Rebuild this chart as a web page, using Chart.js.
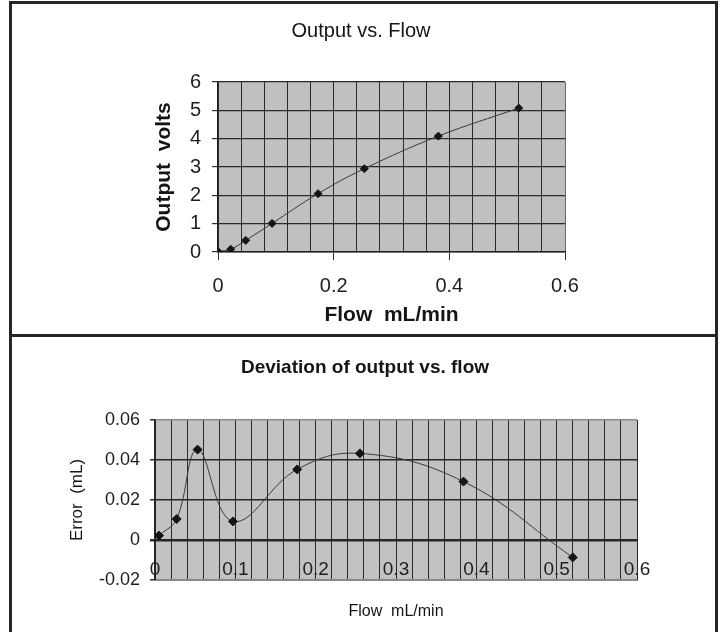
<!DOCTYPE html>
<html>
<head>
<meta charset="utf-8">
<script src="https://cdn.jsdelivr.net/npm/chart.js@4.4.1/dist/chart.umd.min.js"></script>
<style>
  html, body { margin: 0; padding: 0; background: #ffffff; overflow: hidden; }
  #wrap { position: relative; width: 722px; height: 632px; background: #ffffff; }
  canvas { position: absolute; left: 0; }
  .bar { position: absolute; background: #262626; z-index: 5; }
</style>
</head>
<body>
<div id="wrap">
  <canvas id="top" width="722" height="334" style="top:0px"></canvas>
  <canvas id="bottom" width="722" height="295" style="top:337px"></canvas>
  <div class="bar" style="left:9px;top:1px;width:3px;height:631px"></div>
  <div class="bar" style="left:715px;top:1px;width:3px;height:631px"></div>
  <div class="bar" style="left:9px;top:1px;width:709px;height:3px"></div>
  <div class="bar" style="left:9px;top:334px;width:709px;height:3px"></div>
</div>
<script>
// ---- Data: Output vs. Flow ----
const flowTop = [0, 0.022, 0.048, 0.0935, 0.173, 0.253, 0.381, 0.520];
const outputVolts = [0.02, 0.10, 0.41, 1.01, 2.06, 2.94, 4.09, 5.08];
const topXTickLabels = [0, 0.2, 0.4, 0.6];
const topYTickLabels = [0, 1, 2, 3, 4, 5, 6];

// ---- Data: Deviation of output vs. flow ----
const flowBottom = [0.005, 0.027, 0.053, 0.097, 0.177, 0.255, 0.384, 0.520];
const errorML = [0.0022, 0.0105, 0.0452, 0.0093, 0.0353, 0.0433, 0.0292, -0.0087];
const bottomXTickLabels = [0, 0.1, 0.2, 0.3, 0.4, 0.5, 0.6];
const bottomYTickLabels = [-0.02, 0, 0.02, 0.04, 0.06];

const FONT = "'Liberation Sans', Arial, Helvetica, sans-serif";

function isLabelled(v, list) {
  return list.some(t => Math.abs(t - v) < 1e-7);
}
function fmt(v, list) {
  const t = list.find(t => Math.abs(t - v) < 1e-7);
  return t === undefined ? '' : String(t);
}

const plotBg = {
  id: 'plotBg',
  beforeDraw(chart, args, opts) {
    const a = chart.chartArea;
    const c = chart.ctx;
    c.save();
    c.fillStyle = opts.color || '#c0c0c0';
    c.fillRect(a.left, a.top, a.right - a.left, a.bottom - a.top);
    c.restore();
  }
};

// ---- Top chart ----
new Chart(document.getElementById('top'), {
  type: 'scatter',
  data: {
    datasets: [{
      data: flowTop.map((x, i) => ({ x: x, y: outputVolts[i] })),
      showLine: true,
      tension: 0.4,
      borderColor: '#3a3a3a',
      borderWidth: 1,
      pointStyle: 'rectRot',
      pointRadius: 4,
      pointBackgroundColor: '#151515',
      pointBorderColor: '#151515',
      pointBorderWidth: 1
    }]
  },
  options: {
    responsive: false,
    animation: false,
    events: [],
    layout: { padding: { left: 157, right: 157, top: 0, bottom: 0 } },
    plugins: {
      legend: { display: false },
      tooltip: { enabled: false },
      plotBg: { color: '#c0c0c0' },
      title: {
        display: true,
        text: 'Output vs. Flow',
        color: '#151515',
        font: { family: FONT, size: 20, weight: 'normal' },
        padding: { top: 19, bottom: 39 }
      }
    },
    scales: {
      x: {
        type: 'linear',
        position: 'bottom',
        min: 0, max: 0.6,
        afterFit: s => { s.height = 82; },
        ticks: {
          stepSize: 0.04, precision: 2, autoSkip: false, maxRotation: 0,
          padding: 14, color: '#1e1e1e',
          font: { family: FONT, size: 20 },
          callback: v => fmt(v, topXTickLabels)
        },
        grid: {
          color: ctx => (Math.abs(ctx.tick.value - 0.6) < 1e-7 ? '#6a6a6a' : '#2a2a2a'),
          lineWidth: 1,
          drawTicks: true,
          tickLength: 8,
          tickColor: ctx => (isLabelled(ctx.tick.value, topXTickLabels) ? '#2e2e2e' : 'rgba(0,0,0,0)')
        },
        border: { display: true, color: '#222', width: 1.5 },
        title: {
          display: true, text: 'Flow  mL/min', color: '#151515',
          font: { family: FONT, size: 21, weight: 'bold' },
          padding: { top: 0, bottom: 6 }
        }
      },
      y: {
        type: 'linear',
        min: 0, max: 6,
        afterFit: s => { s.width = 61; },
        ticks: {
          stepSize: 1, padding: 11, color: '#1e1e1e',
          font: { family: FONT, size: 20 },
          callback: v => fmt(v, topYTickLabels)
        },
        grid: { color: '#2a2a2a', lineWidth: 1.2, tickLength: 6, tickColor: '#2e2e2e' },
        border: { display: true, color: '#222', width: 1.5 },
        title: {
          display: true, text: 'Output  volts', color: '#151515',
          font: { family: FONT, size: 21, weight: 'bold' },
          padding: { top: -5, bottom: 0 }
        }
      }
    }
  },
  plugins: [plotBg]
});

// ---- Bottom chart ----
new Chart(document.getElementById('bottom'), {
  type: 'scatter',
  data: {
    datasets: [{
      data: flowBottom.map((x, i) => ({ x: x, y: errorML[i] })),
      showLine: true,
      tension: 0.4,
      borderColor: '#3a3a3a',
      borderWidth: 1,
      pointStyle: 'rectRot',
      pointRadius: 4.5,
      pointBackgroundColor: '#151515',
      pointBorderColor: '#151515',
      pointBorderWidth: 1
    }]
  },
  options: {
    responsive: false,
    animation: false,
    events: [],
    layout: { padding: { left: 93, right: 85, top: 0, bottom: 0 } },
    plugins: {
      legend: { display: false },
      tooltip: { enabled: false },
      plotBg: { color: '#c2c2c2' },
      title: {
        display: true,
        text: 'Deviation of output vs. flow',
        color: '#151515',
        font: { family: FONT, size: 19, weight: 'bold' },
        padding: { top: 19.6, bottom: 40.6 }
      }
    },
    scales: {
      x: {
        type: 'linear',
        position: 'bottom',
        min: 0, max: 0.6,
        afterFit: s => { s.height = 52; },
        ticks: {
          stepSize: 0.02, precision: 2, autoSkip: false, maxRotation: 0,
          mirror: true, padding: -1, color: '#1e1e1e',
          font: { family: FONT, size: 19 },
          callback: v => fmt(v, bottomXTickLabels)
        },
        grid: { color: '#2a2a2a', lineWidth: 1, drawTicks: false },
        border: { display: true, color: '#8a8a8a', width: 1 },
        title: {
          display: true, text: 'Flow  mL/min', color: '#151515',
          font: { family: FONT, size: 16, weight: 'normal' },
          padding: { top: 0, bottom: 11 }
        }
      },
      y: {
        type: 'linear',
        min: -0.02, max: 0.06,
        afterFit: s => { s.width = 62; },
        ticks: {
          stepSize: 0.02, precision: 2, padding: 10, color: '#1e1e1e',
          font: { family: FONT, size: 18 },
          callback: v => fmt(v, bottomYTickLabels)
        },
        grid: {
          color: ctx => {
            const v = ctx.tick.value;
            if (Math.abs(v - 0.06) < 1e-7 || Math.abs(v + 0.02) < 1e-7) return '#8a8a8a';
            return '#262626';
          },
          lineWidth: ctx => (Math.abs(ctx.tick.value) < 1e-7 ? 2.5 : 1.5),
          tickLength: 5,
          tickColor: '#2e2e2e'
        },
        border: { display: true, color: '#222', width: 1.5 },
        title: {
          display: true, text: 'Error  (mL)', color: '#151515',
          font: { family: FONT, size: 17, weight: 'normal' },
          padding: { top: -26, bottom: 0 }
        }
      }
    }
  },
  plugins: [plotBg]
});
</script>
</body>
</html>
